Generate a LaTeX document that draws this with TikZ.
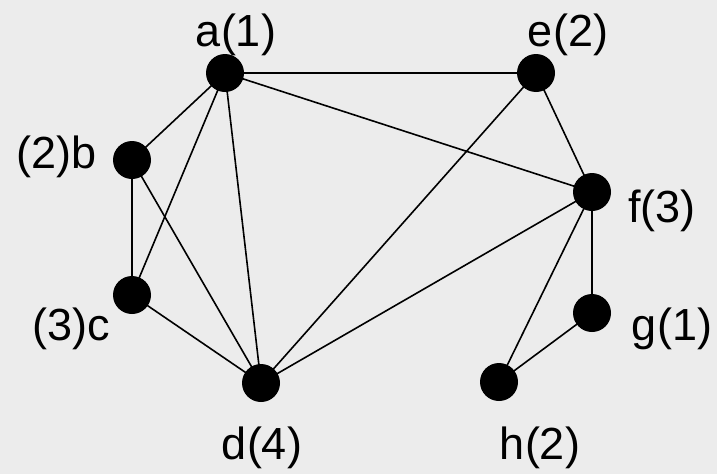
\documentclass[tikz,border=0pt]{standalone}
\usepackage{fontspec}
\setmainfont{Liberation Sans}
\definecolor{bgc}{HTML}{ECECEC}
\begin{document}
\begin{tikzpicture}[x=1pt,y=-1pt,
  vtx/.style={circle,fill=black,inner sep=0pt,minimum size=38pt},
  lbl/.style={inner sep=0pt,font=\fontsize{45}{45}\selectfont},
  edge/.style={line width=1.6pt,black}]
\fill[bgc] (0,0) rectangle (717,474);
\useasboundingbox (0,0) rectangle (717,474);
\node[vtx] (a) at (225,73) {};
\node[vtx] (e) at (536,73) {};
\node[vtx] (b) at (132,160) {};
\node[vtx] (f) at (592,192) {};
\node[vtx] (c) at (132,295) {};
\node[vtx] (g) at (592,313) {};
\node[vtx] (d) at (261,383) {};
\node[vtx] (h) at (499,382) {};
\node[lbl] (la) at (236,35) {a(1)};
\node[lbl] (le) at (568,35) {e(2)};
\node[lbl] (lb) at (57,157) {(2)b};
\node[lbl] (lf) at (662,211) {f(3)};
\node[lbl] (lc) at (71,329) {(3)c};
\node[lbl] (lg) at (672,329) {g(1)};
\node[lbl] (ld) at (262,448) {d(4)};
\node[lbl] (lh) at (540,448) {h(2)};
\begin{scope}[on background layer/.try]
\end{scope}
\draw[edge] (a.center) -- (e.center);
\draw[edge] (a.center) -- (b.center);
\draw[edge] (a.center) -- (c.center);
\draw[edge] (a.center) -- (d.center);
\draw[edge] (a.center) -- (f.center);
\draw[edge] (b.center) -- (c.center);
\draw[edge] (b.center) -- (d.center);
\draw[edge] (c.center) -- (d.center);
\draw[edge] (d.center) -- (e.center);
\draw[edge] (d.center) -- (f.center);
\draw[edge] (e.center) -- (f.center);
\draw[edge] (f.center) -- (g.center);
\draw[edge] (f.center) -- (h.center);
\draw[edge] (g.center) -- (h.center);
\end{tikzpicture}
\end{document}
